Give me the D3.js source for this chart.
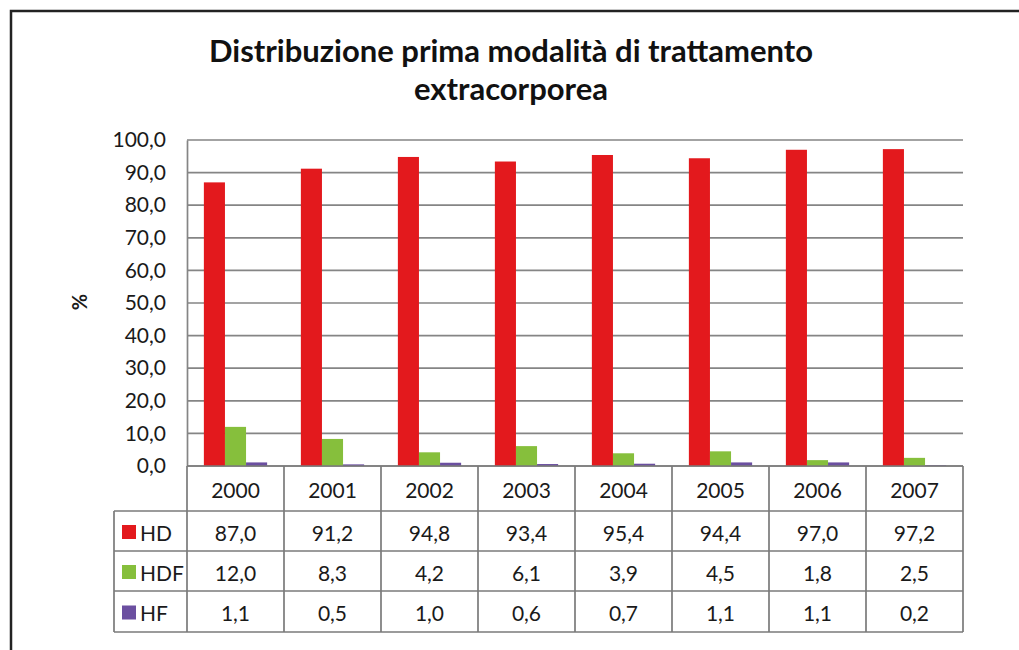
<!DOCTYPE html>
<html>
<head>
<meta charset="utf-8">
<script src="https://cdn.jsdelivr.net/npm/d3@7"></script>
<style>
  body { margin: 0; background: #fff; }
  svg { display: block; font-family: Lato, "Open Sans", sans-serif; }
</style>
</head>
<body>
<svg id="chart" width="1019" height="650"></svg>
<script>
// dati
const years = ["2000", "2001", "2002", "2003", "2004", "2005", "2006", "2007"];
const seriesNames = ["HD", "HDF", "HF"];
const hdValues = [87.0, 91.2, 94.8, 93.4, 95.4, 94.4, 97.0, 97.2];
const hdfValues = [12.0, 8.3, 4.2, 6.1, 3.9, 4.5, 1.8, 2.5];
const hfValues = [1.1, 0.5, 1.0, 0.6, 0.7, 1.1, 1.1, 0.2];
const yTicks = [0, 10, 20, 30, 40, 50, 60, 70, 80, 90, 100];
const colors = ["#e3191d", "#86bf3c", "#6b4fa0"];

const series = [hdValues, hdfValues, hfValues];
const fmt = v => v.toFixed(1).replace(".", ",");
const textColor = "#1a1a1a";

const svg = d3.select("#chart");

// cornice esterna
svg.append("path")
  .attr("d", "M11,650 L11,11 L1019,11")
  .attr("fill", "none")
  .attr("stroke", "#222")
  .attr("stroke-width", 2.5);

// titolo
const title = svg.append("text")
  .attr("text-anchor", "middle")
  .attr("font-weight", "bold")
  .attr("font-size", "31px")
  .attr("fill", "#111");
title.append("tspan").attr("x", 511).attr("y", 62).text("Distribuzione prima modalità di trattamento");
title.append("tspan").attr("x", 511).attr("y", 100).text("extracorporea");

const margin = { left: 187, right: 963, top: 140, bottom: 466 };

const x0 = d3.scaleBand().domain(years).range([margin.left, margin.right]);
const x1 = d3.scaleBand().domain(seriesNames)
  .range([0, x0.bandwidth()]).paddingOuter(0.8).paddingInner(0);
const y = d3.scaleLinear().domain([0, 100]).range([margin.bottom, margin.top]);

// griglia
svg.append("g")
  .selectAll("line")
  .data(yTicks)
  .enter()
  .append("line")
  .attr("x1", margin.left)
  .attr("x2", margin.right)
  .attr("y1", d => y(d))
  .attr("y2", d => y(d))
  .attr("stroke", "#858585")
  .attr("stroke-width", 1.7);

// asse y
const yAxis = d3.axisLeft(y).tickValues(yTicks).tickFormat(fmt).tickSize(0).tickPadding(21);
const gy = svg.append("g").attr("transform", `translate(${margin.left},0)`).call(yAxis);
gy.select(".domain").attr("stroke", "#858585").attr("stroke-width", 1.7);
gy.selectAll("text")
  .attr("font-size", "21px")
  .attr("fill", textColor)
  .attr("font-family", "Lato, 'Open Sans', sans-serif");

svg.append("text")
  .attr("transform", "translate(87,302) rotate(-90)")
  .attr("text-anchor", "middle")
  .attr("font-size", "20px")
  .attr("font-weight", "bold")
  .attr("fill", textColor)
  .text("%");

// barre
seriesNames.forEach((name, si) => {
  svg.append("g")
    .selectAll("rect")
    .data(series[si])
    .enter()
    .append("rect")
    .attr("x", (d, i) => x0(years[i]) + x1(name))
    .attr("width", x1.bandwidth())
    .attr("y", d => y(d))
    .attr("height", d => margin.bottom - y(d))
    .attr("fill", colors[si]);
});

// tabella dati
const rowTops = [466, 511, 551, 591, 632];
const legendLeft = 114;
const grid = svg.append("g").attr("stroke", "#7a7a7a").attr("stroke-width", 1.7);

// linee orizzontali
grid.append("line").attr("x1", margin.left).attr("x2", margin.right).attr("y1", rowTops[0]).attr("y2", rowTops[0]);
rowTops.slice(1).forEach(t => {
  grid.append("line").attr("x1", legendLeft).attr("x2", margin.right).attr("y1", t).attr("y2", t);
});
// linee verticali
grid.append("line").attr("x1", legendLeft).attr("x2", legendLeft).attr("y1", rowTops[1]).attr("y2", rowTops[4]);
years.forEach(yr => {
  grid.append("line").attr("x1", x0(yr)).attr("x2", x0(yr)).attr("y1", rowTops[0]).attr("y2", rowTops[4]);
});
grid.append("line").attr("x1", margin.right).attr("x2", margin.right).attr("y1", rowTops[0]).attr("y2", rowTops[4]);

const cellText = (xx, yy, t) => svg.append("text")
  .attr("x", xx).attr("y", yy)
  .attr("text-anchor", "middle")
  .attr("dominant-baseline", "central")
  .attr("font-size", "21px")
  .attr("fill", textColor)
  .text(t);

years.forEach(yr => cellText(x0(yr) + x0.bandwidth() / 2, (rowTops[0] + rowTops[1]) / 2 + 1, yr));

seriesNames.forEach((name, si) => {
  const cy = (rowTops[si + 1] + rowTops[si + 2]) / 2 + 1;
  svg.append("rect")
    .attr("x", legendLeft + 8).attr("y", cy - 7)
    .attr("width", 14).attr("height", 14)
    .attr("fill", colors[si]);
  svg.append("text")
    .attr("x", legendLeft + 26).attr("y", cy)
    .attr("dominant-baseline", "central")
    .attr("font-size", "21px")
    .attr("fill", textColor)
    .text(name);
  series[si].forEach((v, i) => cellText(x0(years[i]) + x0.bandwidth() / 2, cy, fmt(v)));
});
</script>
</body>
</html>
